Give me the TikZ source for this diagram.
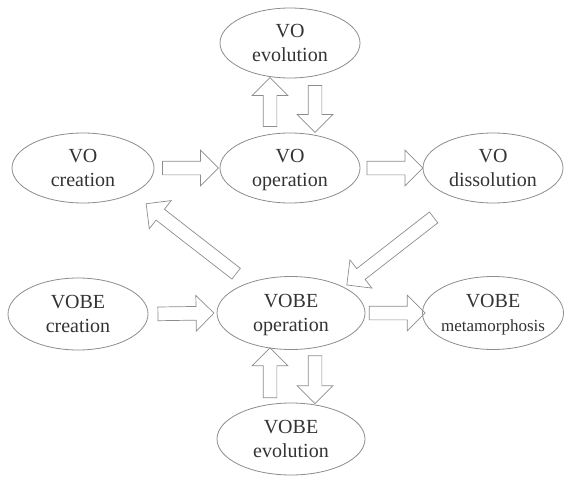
\documentclass[tikz,border=0pt]{standalone}
\usepackage{fontspec}
\setmainfont{Liberation Serif}
\usetikzlibrary{shapes.geometric,shapes.arrows}
\definecolor{linegray}{gray}{0.55}
\definecolor{textgray}{gray}{0.2}
\tikzset{
    phase/.style={
        ellipse,
        draw=linegray,
        line width=0.8pt,
        minimum width=140pt,
        minimum height=70pt,
        inner sep=0pt,
        align=center,
        text=textgray,
        text depth=0pt,
        font=\fontsize{20}{24}\selectfont
    },
    blockarrow/.style={
        single arrow,
        draw=linegray,
        line width=0.7pt,
        inner sep=0pt,
        inner ysep=6.5pt,
        single arrow head extend=11pt,
        sloped,
        allow upside down
    }
}

\begin{document}
\begin{tikzpicture}[x=1pt,y=-1pt]
        \useasboundingbox (0,0) rectangle (564,476);
        % draw VO phases
        \node[phase] (voev) at (290,43) {VO\\evolution};
        \node[phase,minimum width=142pt] (vocr) at (83,168) {VO\\creation};
        \node[phase] (voop) at (290,168) {VO\\operation};
        \node[phase] (vodi) at (493,168) {VO\\dissolution};
        % draw VOBE phases
        \node[phase,minimum height=72pt] (bocr) at (78,314) {VOBE\\creation};
        \node[phase,minimum width=148pt,minimum height=73pt] (boop) at (291,313) {VOBE\\operation};
        \node[phase,minimum width=141pt,minimum height=73pt,inner xsep=-4pt] (bome) at (493,313)
            {VOBE\\{\fontsize{17}{20}\selectfont metamorphosis}};
        \node[phase,minimum width=148pt,minimum height=72pt] (boev) at (291,439) {VOBE\\evolution};
        % draw horizontal arrows
        \foreach \a/\b in {vocr/voop,voop/vodi,bocr/boop,boop/bome}
            \path (\a.east) -- node[blockarrow,midway,minimum height=56pt] (\a-\b) {} (\b.west);
        % draw up and down arrows
        \path ([xshift=-20pt]voop.north) -- node[blockarrow,midway,minimum height=49pt] (voop-voev) {}
            ([xshift=-20pt]voev.south);
        \path ([xshift=25pt]voev.south) -- node[blockarrow,midway,minimum height=47pt] (voev-voop) {}
            ([xshift=25pt]voop.north);
        \path ([xshift=-21pt]boev.north) -- node[blockarrow,midway,minimum height=50pt] (boev-boop) {}
            ([xshift=-21pt]boop.south);
        \path ([xshift=24pt]boop.south) -- node[blockarrow,midway,minimum height=48pt] (boop-boev) {}
            ([xshift=24pt]boev.north);
        % draw diagonal arrows
        \path (vodi.221) -- node[blockarrow,pos=.57,minimum height=110pt] (vodi-boop) {} (boop.26);
        \path (boop.145) -- node[blockarrow,pos=.47,minimum height=114pt] (boop-vocr) {} (vocr.-27);
\end{tikzpicture}
\end{document}
